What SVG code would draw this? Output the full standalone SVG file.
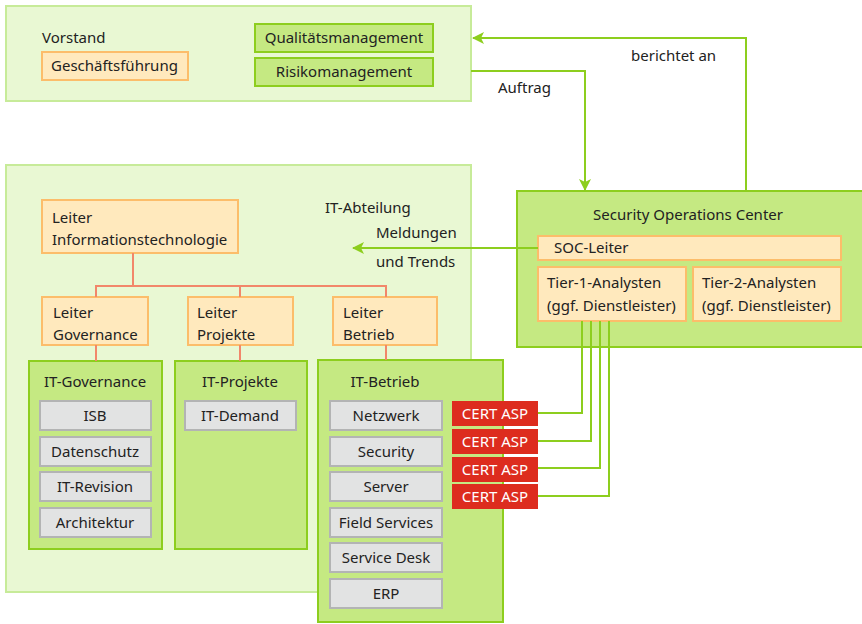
<svg xmlns="http://www.w3.org/2000/svg" width="862" height="624" viewBox="0 0 862 624">
  <style>
    text { font-family: "Noto Sans", "Open Sans", "DejaVu Sans", sans-serif; font-size: 15px; fill: #222; }
    .mid { text-anchor: middle; }
    .area { fill: #e9f8d3; stroke: #c7eb99; stroke-width: 2; }
    .group { fill: #c5e982; stroke: #8dce1e; stroke-width: 2; }
    .role { fill: #ffe9bd; stroke: #fcbd6a; stroke-width: 2; }
    .unit { fill: #e2e3e3; stroke: #b3b4b4; stroke-width: 2; }
    .cert { fill: #dd2c1e; }
    .cert-t { fill: #ffffff; font-size: 15px; }
    .flow { fill: none; stroke: #8dce1e; stroke-width: 2; }
    .org { fill: none; stroke: #f2876a; stroke-width: 2; }
  </style>
  <defs>
    <marker id="arrow" viewBox="0 0 12 12" refX="11" refY="6" markerWidth="12" markerHeight="12" markerUnits="userSpaceOnUse" orient="auto">
      <path d="M0,0 L12,6 L0,12 L3,6 Z" fill="#8dce1e"/>
    </marker>
  </defs>

  <!-- Executive board -->
  <g id="vorstand">
    <rect class="area" x="6" y="6" width="465" height="95"/>
    <text x="42" y="43">Vorstand</text>
  </g>
  <g id="geschaeftsfuehrung">
    <rect class="role" x="42" y="52" width="146" height="28"/>
    <text x="51" y="71">Geschäftsführung</text>
  </g>
  <g id="qualitaetsmanagement">
    <rect class="group" x="255" y="24" width="178" height="28"/>
    <text class="mid" x="344" y="43">Qualitätsmanagement</text>
  </g>
  <g id="risikomanagement">
    <rect class="group" x="255" y="58" width="178" height="28"/>
    <text class="mid" x="344" y="77">Risikomanagement</text>
  </g>

  <!-- IT department -->
  <g id="it-abteilung">
    <rect class="area" x="6" y="165" width="465" height="427"/>
    <text x="325" y="213">IT-Abteilung</text>
  </g>
  <g id="leiter-it">
    <rect class="role" x="42" y="200" width="196" height="53"/>
    <text x="52" y="223">Leiter</text>
    <text x="52" y="245">Informationstechnologie</text>
  </g>
  <g id="leiter-governance">
    <rect class="role" x="42" y="297" width="106" height="48"/>
    <text x="53" y="318">Leiter</text>
    <text x="53" y="340">Governance</text>
  </g>
  <g id="leiter-projekte">
    <rect class="role" x="188" y="297" width="105" height="48"/>
    <text x="197" y="318">Leiter</text>
    <text x="197" y="340">Projekte</text>
  </g>
  <g id="leiter-betrieb">
    <rect class="role" x="333" y="297" width="104" height="48"/>
    <text x="343" y="318">Leiter</text>
    <text x="343" y="340">Betrieb</text>
  </g>

  <g id="it-governance">
    <rect class="group" x="29" y="361" width="133" height="188"/>
    <text class="mid" x="95" y="387">IT-Governance</text>
    <rect class="unit" x="40" y="401" width="111" height="29"/>
    <text class="mid" x="95" y="421">ISB</text>
    <rect class="unit" x="40" y="437" width="111" height="29"/>
    <text class="mid" x="95" y="457">Datenschutz</text>
    <rect class="unit" x="40" y="472" width="111" height="29"/>
    <text class="mid" x="95" y="492">IT-Revision</text>
    <rect class="unit" x="40" y="508" width="111" height="29"/>
    <text class="mid" x="95" y="528">Architektur</text>
  </g>
  <g id="it-projekte">
    <rect class="group" x="175" y="361" width="132" height="188"/>
    <text class="mid" x="240" y="387">IT-Projekte</text>
    <rect class="unit" x="185" y="401" width="111" height="29"/>
    <text class="mid" x="240" y="421">IT-Demand</text>
  </g>
  <g id="it-betrieb">
    <rect class="group" x="318" y="360" width="185" height="262"/>
    <text class="mid" x="385" y="387">IT-Betrieb</text>
    <rect class="unit" x="330" y="401" width="112" height="29"/>
    <text class="mid" x="386" y="421">Netzwerk</text>
    <rect class="unit" x="330" y="437" width="112" height="29"/>
    <text class="mid" x="386" y="457">Security</text>
    <rect class="unit" x="330" y="472" width="112" height="29"/>
    <text class="mid" x="386" y="492">Server</text>
    <rect class="unit" x="330" y="508" width="112" height="29"/>
    <text class="mid" x="386" y="528">Field Services</text>
    <rect class="unit" x="330" y="543" width="112" height="29"/>
    <text class="mid" x="386" y="563">Service Desk</text>
    <rect class="unit" x="330" y="579" width="112" height="29"/>
    <text class="mid" x="386" y="599">ERP</text>
  </g>

  <!-- CERT ASP contacts -->
  <g id="cert-netzwerk">
    <rect class="cert" x="452" y="401" width="86" height="25"/>
    <text class="mid cert-t" x="495" y="419">CERT ASP</text>
  </g>
  <g id="cert-security">
    <rect class="cert" x="452" y="429" width="86" height="25"/>
    <text class="mid cert-t" x="495" y="447">CERT ASP</text>
  </g>
  <g id="cert-server">
    <rect class="cert" x="452" y="457" width="86" height="25"/>
    <text class="mid cert-t" x="495" y="475">CERT ASP</text>
  </g>
  <g id="cert-field">
    <rect class="cert" x="452" y="484" width="86" height="25"/>
    <text class="mid cert-t" x="495" y="502">CERT ASP</text>
  </g>

  <!-- Security Operations Center -->
  <g id="soc">
    <rect class="group" x="517" y="191" width="360" height="156"/>
    <text class="mid" x="688" y="220">Security Operations Center</text>
  </g>
  <g id="soc-leiter">
    <rect class="role" x="538" y="236" width="303" height="24"/>
    <text x="554" y="253">SOC-Leiter</text>
  </g>
  <g id="tier-1">
    <rect class="role" x="538" y="267" width="148" height="54"/>
    <text x="547" y="288">Tier-1-Analysten</text>
    <text x="547" y="311">(ggf. Dienstleister)</text>
  </g>
  <g id="tier-2">
    <rect class="role" x="693" y="267" width="148" height="54"/>
    <text x="702" y="288">Tier-2-Analysten</text>
    <text x="702" y="311">(ggf. Dienstleister)</text>
  </g>

  <!-- Connectors -->
  <g id="connectors">
    <path class="org" d="M133,253 V286 M96,297 V286 H386 V297 M240,286 V297"/>
    <path class="org" d="M96,345 V361 M240,345 V361 M386,345 V360"/>

    <path class="flow" d="M746,191 V38 H473" marker-end="url(#arrow)"/>
    <path class="flow" d="M471,71 H585 V190" marker-end="url(#arrow)"/>
    <path class="flow" d="M538,248 H353" marker-end="url(#arrow)"/>

    <path class="flow" d="M582,321 V413 H538"/>
    <path class="flow" d="M591,321 V441 H538"/>
    <path class="flow" d="M600,321 V468 H538"/>
    <path class="flow" d="M609,321 V496 H538"/>

    <text x="631" y="61">berichtet an</text>
    <text x="498" y="93">Auftrag</text>
    <text x="376" y="238">Meldungen</text>
    <text x="376" y="267">und Trends</text>
  </g>
</svg>
